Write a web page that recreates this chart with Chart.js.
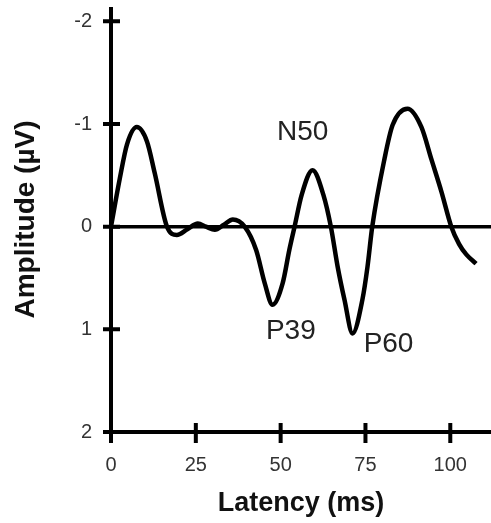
<!DOCTYPE html>
<html>
<head>
<meta charset="utf-8">
<script src="https://cdn.jsdelivr.net/npm/chart.js@4"></script>
<style>
  body { margin: 0; background: #fff; }
  canvas { display: block; }
</style>
</head>
<body>
<canvas id="myChart" width="491" height="523"></canvas>
<script>
// waveform (latency in ms, amplitude in µV, negative up)
const latency = [0, 2.6, 4.7, 7.6, 10.6, 12.9, 16.5, 19.4, 22.5, 25.6, 28, 30.6, 33.3, 35.9,
  39.4, 42.8, 45.3, 47.6, 50.6, 52.6, 54.1, 56.2, 59.4, 62.6, 64.8, 66.8, 68.8, 71.2,
  74.1, 75.6, 77, 80.6, 83, 87.4, 91.5, 94.4, 97.4, 100.3, 102.6, 104.7, 107.6];
const amplitude = [0, -0.47, -0.8, -0.97, -0.83, -0.52, 0, 0.08, 0.025, -0.03, 0, 0.03, -0.02, -0.07,
  0, 0.23, 0.55, 0.76, 0.55, 0.22, 0, -0.31, -0.55, -0.31, 0, 0.39, 0.71, 1.04,
  0.71, 0.39, 0, -0.66, -0.99, -1.15, -0.97, -0.66, -0.34, 0, 0.17, 0.27, 0.36];

const xTicks = [0, 25, 50, 75, 100];
const yTicks = [-2, -1, 0, 1, 2];

// peak labels and where they sit (data units)
const peakNames = ['N50', 'P39', 'P60'];
const peakX = [56.5, 53, 81.8];
const peakY = [-0.92, 1.02, 1.15];

const FONT = "'Liberation Sans', Arial, sans-serif";

// axes with ticks crossing both sides, zero line and peak labels
const axesPlugin = {
  id: 'axes',
  beforeDatasetsDraw(chart) {
    const { ctx, chartArea, scales: { y } } = chart;
    ctx.save();
    ctx.strokeStyle = '#000';
    ctx.lineWidth = 3.5;
    const y0 = y.getPixelForValue(0);
    ctx.beginPath();
    ctx.moveTo(chartArea.left, y0);
    ctx.lineTo(chartArea.right, y0);
    ctx.stroke();
    ctx.restore();
  },
  afterDraw(chart) {
    const { ctx, chartArea, scales: { x, y } } = chart;
    ctx.save();
    ctx.strokeStyle = '#000';
    ctx.lineWidth = 4;
    const xl = chartArea.left;
    const yb = y.getPixelForValue(2);
    ctx.beginPath();
    ctx.moveTo(xl, chartArea.top);
    ctx.lineTo(xl, yb + 11);
    ctx.moveTo(xl - 8, yb);
    ctx.lineTo(chartArea.right, yb);
    yTicks.forEach(v => {
      const p = y.getPixelForValue(v);
      ctx.moveTo(xl - 8, p);
      ctx.lineTo(xl + 9, p);
    });
    xTicks.forEach(v => {
      const p = x.getPixelForValue(v);
      ctx.moveTo(p, yb - 9);
      ctx.lineTo(p, yb + 11);
    });
    ctx.stroke();

    ctx.fillStyle = '#222';
    ctx.font = '28px ' + FONT;
    ctx.textAlign = 'center';
    ctx.textBaseline = 'middle';
    peakNames.forEach((t, i) => {
      ctx.fillText(t, x.getPixelForValue(peakX[i]), y.getPixelForValue(peakY[i]));
    });
    ctx.restore();
  }
};

const ctx = document.getElementById('myChart').getContext('2d');
new Chart(ctx, {
  type: 'line',
  data: {
    datasets: [{
      data: latency.map((t, i) => ({ x: t, y: amplitude[i] })),
      borderColor: '#000',
      borderWidth: 4.5,
      pointRadius: 0,
      cubicInterpolationMode: 'monotone',
      fill: false
    }]
  },
  options: {
    responsive: false,
    animation: false,
    devicePixelRatio: 1,
    layout: { padding: { top: 7, right: 0, bottom: 0, left: 0 } },
    plugins: { legend: { display: false }, tooltip: { enabled: false } },
    scales: {
      x: {
        type: 'linear',
        min: 0,
        max: 112,
        grid: { display: false, drawTicks: false },
        border: { display: false },
        afterBuildTicks: scale => { scale.ticks = xTicks.map(v => ({ value: v })); },
        afterFit: scale => { scale.height = 91; scale.paddingLeft = 0; scale.paddingRight = 0; },
        ticks: { padding: 21, color: '#333', font: { family: FONT, size: 20 } },
        title: {
          display: true,
          text: 'Latency (ms)',
          color: '#111',
          font: { family: FONT, size: 27, weight: 'bold', lineHeight: 1 },
          padding: { top: 0, bottom: 6 }
        }
      },
      y: {
        type: 'linear',
        reverse: true,
        min: -2.14,
        max: 2,
        grid: { display: false, drawTicks: false },
        border: { display: false },
        afterBuildTicks: scale => { scale.ticks = yTicks.map(v => ({ value: v })); },
        afterFit: scale => { scale.width = 111; scale.paddingTop = 0; scale.paddingBottom = 0; },
        ticks: { padding: 19, color: '#333', font: { family: FONT, size: 20 } },
        title: {
          display: true,
          text: 'Amplitude (µV)',
          color: '#111',
          font: { family: FONT, size: 28, weight: 'bold', lineHeight: 1 },
          padding: { top: 12, bottom: 0 }
        }
      }
    }
  },
  plugins: [axesPlugin]
});
</script>
</body>
</html>
